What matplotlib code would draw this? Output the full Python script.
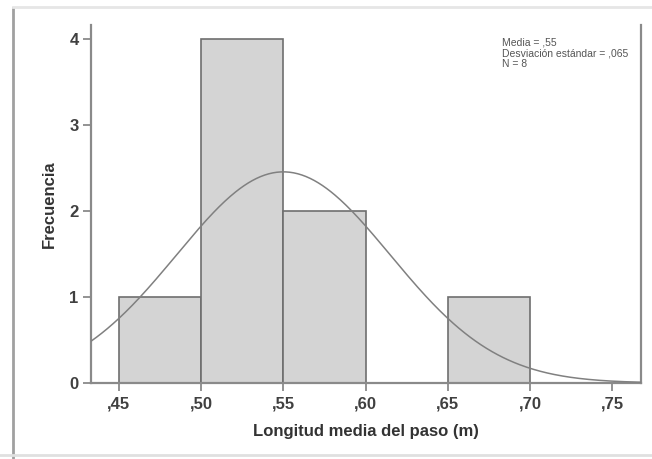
import numpy as np
import matplotlib.pyplot as plt
from matplotlib.lines import Line2D

# histogram data
bin_left = [0.45, 0.50, 0.55, 0.65]
counts = [1, 4, 2, 1]
bin_width = 0.05
x_ticks = [0.45, 0.50, 0.55, 0.60, 0.65, 0.70, 0.75]
x_ticklabels = [",45", ",50", ",55", ",60", ",65", ",70", ",75"]
y_ticks = [0, 1, 2, 3, 4]

media = 0.55
desv = 0.065
n = 8
stats_text = "Media = ,55\nDesviación estándar = ,065\nN = 8"

plt.rcParams['font.family'] = ['Liberation Sans', 'DejaVu Sans']

fig = plt.figure(figsize=(6.52, 4.59), dpi=100)
ax = fig.add_axes([0.1396, 0.1656, 0.8434, 0.78])

ax.bar(bin_left, counts, width=bin_width, align='edge',
       color='#d4d4d4', edgecolor='#6e6e6e', linewidth=1.2, zorder=2)

# normal curve scaled to counts
xs = np.linspace(0.433, 0.7675, 400)
ys = n * bin_width / (desv * np.sqrt(2 * np.pi)) * np.exp(-0.5 * ((xs - media) / desv) ** 2)
ax.plot(xs, ys, color='#808080', linewidth=1.1, zorder=3)

ax.set_xlim(0.433, 0.7675)
ax.set_ylim(0, 4.163)
ax.set_xticks(x_ticks)
ax.set_xticklabels(x_ticklabels)
ax.set_yticks(y_ticks)

for s in ['left', 'right', 'bottom']:
    ax.spines[s].set_color('#8a8a8a')
    ax.spines[s].set_linewidth(1.6)
ax.spines['top'].set_visible(False)
ax.tick_params(axis='both', direction='out', length=6, width=1.3, color='#8a8a8a',
               labelsize=12, labelcolor='#404040', pad=3)
ax.tick_params(axis='x', pad=4)
for lab in ax.get_xticklabels() + ax.get_yticklabels():
    lab.set_fontweight('bold')

ax.set_xlabel("Longitud media del paso (m)", fontsize=12, fontweight='bold', color='#333333', labelpad=9)
ax.set_ylabel("Frecuencia", fontsize=12, fontweight='bold', color='#333333', labelpad=9)

ax.text(0.747, 0.965, stats_text, transform=ax.transAxes, fontsize=7.5,
        color='#555555', va='top', ha='left', linespacing=1.1)

# outer frame
fig.add_artist(Line2D([13/652, 13/652], [0, 1 - 8/459], transform=fig.transFigure,
                      color='#a0a0a0', linewidth=2))
fig.add_artist(Line2D([13/652, 1], [1 - 7/459, 1 - 7/459], transform=fig.transFigure,
                      color='#e6e6e6', linewidth=2))
fig.add_artist(Line2D([0, 1], [1 - 455/459, 1 - 455/459], transform=fig.transFigure,
                      color='#e0e0e0', linewidth=2))

fig.savefig("out.png", dpi=100)
